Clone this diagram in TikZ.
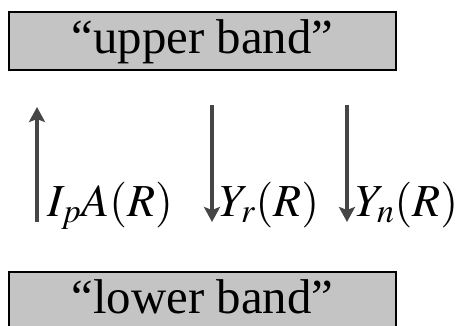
\documentclass[tikz,border=0pt]{standalone}
\usepackage{mathptmx}
\usepackage{fontspec}
\setmainfont{Liberation Serif}
\usetikzlibrary{arrows.meta}
\definecolor{bandfill}{RGB}{196,196,196}
\definecolor{fluxgray}{RGB}{70,70,70}

\begin{document}
\begin{tikzpicture}[x=1bp,y=-1bp,
  bandbox/.style={rectangle,draw=black,line width=2bp,fill=bandfill,
                  minimum width=387bp,minimum height=58bp,inner sep=0pt,
                  text height=35bp,text depth=10bp,
                  font=\fontsize{49}{56}\selectfont},
  ratelabel/.style={anchor=base west,inner sep=0pt,
                    font=\fontsize{46}{52}\selectfont},
  flux/.style={-{Stealth[length=15bp,width=16bp,inset=3bp]},line width=4bp,color=fluxgray}
]
\clip (0,0) rectangle (458,325);

\node[bandbox] (upper) at (202.5,41) {“upper band”};
\node[bandbox] (lower) at (202.5,301) {“lower band”};

% absorption (up) and the two decay channels (down)
\coordinate (absBot) at (37,222);
\coordinate (absTop) at (37,107);
\coordinate (radTop) at (212,105);
\coordinate (radBot) at (212,222);
\coordinate (nonTop) at (347,105);
\coordinate (nonBot) at (347,222);

\draw[flux] (absBot) -- (absTop);
\draw[flux] (radTop) -- (radBot);
\draw[flux] (nonTop) -- (nonBot);

\node[ratelabel] (absLbl) at (47,216) {$I_pA(R)$};
\node[ratelabel] (radLbl) at (220,216) {$Y_r(R)$};
\node[ratelabel] (nonLbl) at (356,216) {$Y_n(R)$};

\end{tikzpicture}
\end{document}
